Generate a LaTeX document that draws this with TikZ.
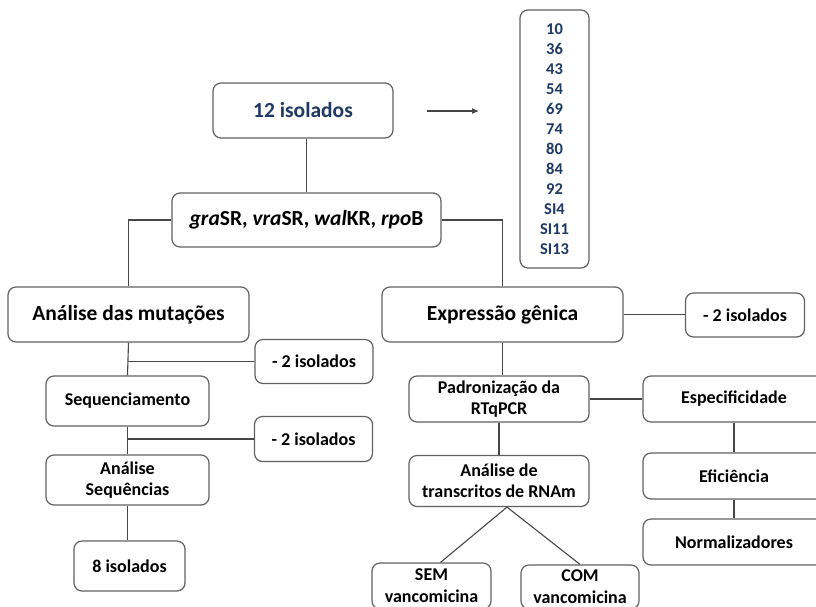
\documentclass[tikz,border=0pt]{standalone}
\usepackage{fontspec}
\setmainfont{Carlito}
\usetikzlibrary{arrows.meta}
\definecolor{azulescuro}{RGB}{31,56,100}
\begin{document}
\begin{tikzpicture}[x=1pt,y=-1pt,
    caixa/.style={draw=black!62,line width=1.2pt,rounded corners=8pt,fill=white,
      align=center,inner sep=0pt,font=\bfseries\fontsize{18}{21}\selectfont},
    grande/.style={caixa,font=\bfseries\fontsize{21.5}{24}\selectfont},
    ligacao/.style={draw=black!72,line width=1.1pt}]
  \useasboundingbox (0,0) rectangle (816,606);
  \clip (0,0) rectangle (816,606);
  % topo
  \node[grande,minimum width=180,minimum height=55,text=azulescuro] (isolados) at (303,110.5) {12 isolados};
  \node[caixa,minimum width=69,minimum height=258,text=azulescuro,font=\bfseries\fontsize{16.5}{20}\selectfont] (lista) at (554.5,139)
    {10\\36\\43\\54\\69\\74\\80\\84\\92\\SI4\\SI11\\SI13};
  \coordinate (setaini) at (427,111);
  \coordinate (setafim) at (479,111);
  \node[grande,minimum width=269,minimum height=54] (genes) at (306.5,220)
    {\textit{gra}SR, \textit{vra}SR, \textit{wal}KR, \textit{rpo}B};
  % ramo esquerdo
  \node[grande,minimum width=241,minimum height=55] (mutacoes) at (128.5,314.5) {Análise das mutações};
  \node[caixa,minimum width=118,minimum height=44] (menos1) at (314,361.5) {- 2 isolados};
  \node[caixa,minimum width=163,minimum height=50] (sequenc) at (127.5,401) {Sequenciamento};
  \node[caixa,minimum width=118,minimum height=45] (menos2) at (313.5,439) {- 2 isolados};
  \node[caixa,minimum width=163,minimum height=50] (analiseseq) at (127.5,480) {Análise\\Sequências};
  \node[caixa,minimum width=111,minimum height=50] (oito) at (129.5,566) {8 isolados};
  % ramo direito
  \node[grande,minimum width=241,minimum height=55] (expressao) at (502.5,314.5) {Expressão gênica};
  \node[caixa,minimum width=119,minimum height=44] (menos3) at (745,315) {- 2 isolados};
  \node[caixa,minimum width=180,minimum height=46] (padron) at (499,399) {Padronização da\\RTqPCR};
  \node[caixa,minimum width=182,minimum height=46] (especif) at (734,399) {Especificidade};
  \node[caixa,minimum width=182,minimum height=46] (eficien) at (734,476) {Eficiência};
  \node[caixa,minimum width=182,minimum height=46] (normaliz) at (734,542) {Normalizadores};
  \node[caixa,minimum width=180,minimum height=51] (transcr) at (499,481) {Análise de\\transcritos de RNAm};
  \node[caixa,minimum width=119,minimum height=46,font=\bfseries\fontsize{18}{22}\selectfont] (semvanc) at (431.5,586) {SEM\\vancomicina};
  \node[caixa,minimum width=118,minimum height=44,font=\bfseries\fontsize{18}{22}\selectfont] (comvanc) at (580,587) {COM\\vancomicina};
  % ligacoes
  \draw[ligacao,-{Latex[length=7pt,width=6pt]}] (setaini) -- (setafim);
  \draw[ligacao] (genes.north) -- (genes.north |- isolados.south);
  \draw[ligacao] (genes.west) -| (mutacoes.north);
  \draw[ligacao] (genes.east) -| (expressao.north);
  \draw[ligacao] (mutacoes.south) -- (sequenc.north);
  \draw[ligacao] (menos1.west) -- (menos1.west -| sequenc.north);
  \draw[ligacao] (sequenc.south) -- (analiseseq.north);
  \draw[ligacao] (menos2.west) -- (menos2.west -| sequenc.south);
  \draw[ligacao] (analiseseq.south) -- (oito.north -| analiseseq.south);
  \draw[ligacao] (expressao.east) -- (menos3.west |- expressao.east);
  \draw[ligacao] (expressao.south) -- (expressao.south |- padron.north);
  \draw[ligacao] (padron.east) -- (especif.west);
  \draw[ligacao] (padron.south) -- (transcr.north);
  \draw[ligacao] (especif.south) -- (eficien.north);
  \draw[ligacao] (eficien.south) -- (normaliz.north);
  \draw[ligacao] ([xshift=8pt]transcr.south) -- ([xshift=9pt]semvanc.north);
  \draw[ligacao] ([xshift=8pt]transcr.south) -- (comvanc.north);
\end{tikzpicture}
\end{document}
